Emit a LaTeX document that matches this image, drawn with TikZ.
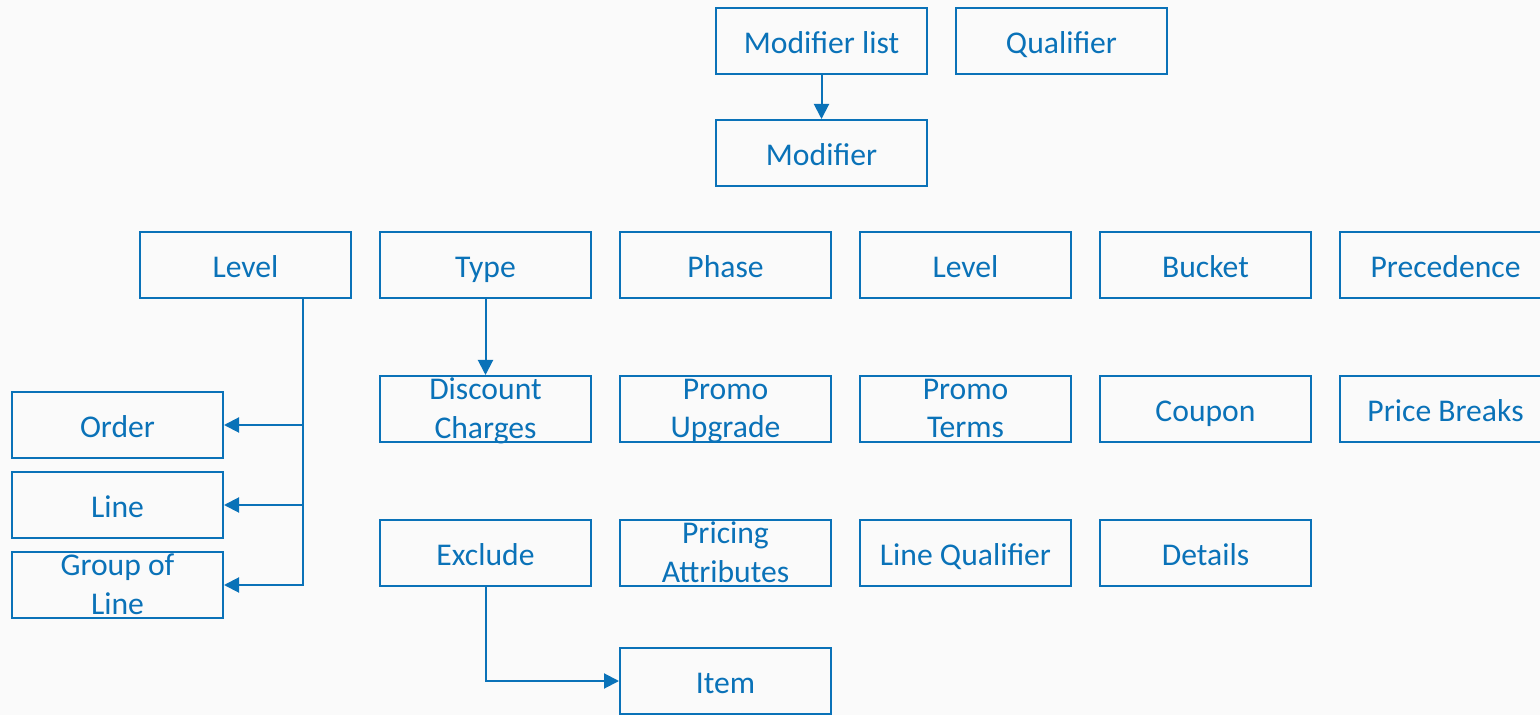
\documentclass[tikz,border=0pt]{standalone}
\usepackage{fontspec}
\setmainfont{Carlito}
\usetikzlibrary{positioning}
\usetikzlibrary{arrows.meta}

\begin{document}
\begin{tikzpicture}[line width = 0.04cm,
  caption/.style = {text = frame, inner sep = 0pt, align = center, font = \fontsize{18}{22}\selectfont, execute at begin node = \strut, execute at end node = \strut},
  box/.style = {draw = frame, minimum width = 4.22cm, minimum height = 1.32cm, inner sep = 0pt, label = {[caption, yshift = -0.1cm]center:#1}},
  link/.style = {draw = frame, -{Triangle[length = 0.3cm, width = 0.3cm]}}]
\definecolor{frame}{HTML}{0A72B8}
\definecolor{paper}{HTML}{FAFAFA}

\useasboundingbox (0, 0) rectangle (30.8, -14.3);
\fill[paper] (0, 0) rectangle (30.8, -14.3);

% top
\node[box = {Modifier list}] (ModList) at (16.43, -0.82) {};
\node[box = Qualifier] (Qualifier) at (21.23, -0.82) {};
\node[box = Modifier] (Modifier) at (16.43, -3.06) {};

% attributes of a modifier
\node[box = Level] (Level) at (4.91, -5.30) {};
\node[box = Type] (Type) at (9.71, -5.30) {};
\node[box = Phase] (Phase) at (14.51, -5.30) {};
\node[box = Level] (Level2) at (19.31, -5.30) {};
\node[box = Bucket] (Bucket) at (24.11, -5.30) {};
\node[box = Precedence] (Precedence) at (28.91, -5.30) {};

\node[box = {Discount\\Charges}] (Discount) at (9.71, -8.18) {};
\node[box = {Promo\\Upgrade}] (Upgrade) at (14.51, -8.18) {};
\node[box = {Promo\\Terms}] (Terms) at (19.31, -8.18) {};
\node[box = Coupon] (Coupon) at (24.11, -8.18) {};
\node[box = {Price Breaks}] (Breaks) at (28.91, -8.18) {};

\node[box = Exclude] (Exclude) at (9.71, -11.06) {};
\node[box = {Pricing\\Attributes}] (Pricing) at (14.51, -11.06) {};
\node[box = {Line Qualifier}] (LineQual) at (19.31, -11.06) {};
\node[box = Details] (Details) at (24.11, -11.06) {};

\node[box = Item] (Item) at (14.51, -13.62) {};

% levels
\node[box = Order] (Order) at (2.35, -8.50) {};
\node[box = Line] (Line) at (2.35, -10.10) {};
\node[box = {Group of\\Line}] (Group) at (2.35, -11.70) {};

\coordinate (lvl) at ([xshift = 1.15cm]Level.south);

\draw[link] (ModList) -- (Modifier);
\draw[link] (Type) -- (Discount);
\foreach \lv in {Order, Line, Group} \draw[link] (lvl) |- (\lv);
\draw[link] (Exclude) |- (Item);
\end{tikzpicture}
\end{document}
